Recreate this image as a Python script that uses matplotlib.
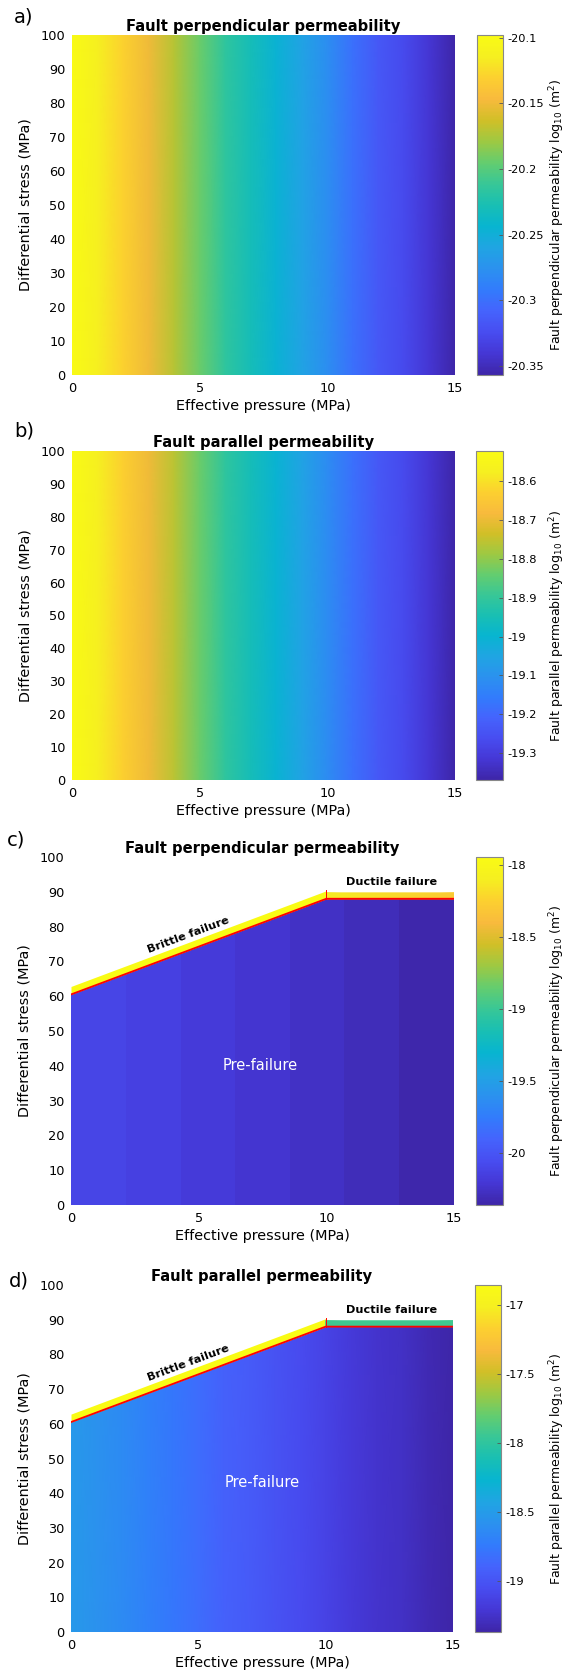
import numpy as np
import matplotlib
matplotlib.use("Agg")
import matplotlib.pyplot as plt
from matplotlib.colors import LinearSegmentedColormap, Normalize
from matplotlib.patches import Polygon

plt.rcParams['font.family'] = ['DejaVu Sans']
plt.rcParams['axes.unicode_minus'] = False

# parula-like colormap (MATLAB default)
parula = LinearSegmentedColormap.from_list("parula", [
    (0.2422, 0.1504, 0.6603), (0.2706, 0.2147, 0.8364), (0.2813, 0.3006, 0.9414),
    (0.2699, 0.3892, 0.9906), (0.1963, 0.4847, 0.9892), (0.1687, 0.5703, 0.9359),
    (0.1248, 0.6459, 0.8883), (0.0297, 0.7082, 0.8163), (0.0964, 0.7489, 0.7029),
    (0.2200, 0.7800, 0.5900), (0.3909, 0.8029, 0.4354), (0.6174, 0.7876, 0.2612),
    (0.8203, 0.7498, 0.1535), (0.9728, 0.7298, 0.2394), (0.9892, 0.8136, 0.1885),
    (0.9628, 0.9373, 0.1265), (0.9769, 0.9839, 0.0805)], N=256)

# ---- data ----
pressure = [0, 1, 2, 3, 4, 5, 6, 7, 8, 9, 10, 11, 12, 13, 14, 15]
stress_range = [0, 100]
perp_perm = [-20.098, -20.114, -20.130, -20.150, -20.171, -20.194, -20.216, -20.230,
             -20.246, -20.261, -20.279, -20.300, -20.316, -20.326, -20.341, -20.357]
par_perm = [-18.523, -18.574, -18.629, -18.692, -18.760, -18.836, -18.908, -18.954,
            -19.005, -19.056, -19.115, -19.183, -19.234, -19.267, -19.318, -19.369]

# failure envelope
brittle_p = [0, 10]
brittle_s = [60.5, 88]
ductile_p = [10, 15]
ductile_s = [88, 88]

# panel c: pre-failure banded columns
band_edges = [0, 2.14, 4.29, 6.43, 8.57, 10.71, 12.86, 15]
perp_band = [-20.105, -20.14, -20.18, -20.22, -20.255, -20.295, -20.34]
perp_brittle = -17.95
perp_ductile = [-18.12, -18.30]

# panel d
par_brittle = -16.86
par_ductile = [-17.93, -17.93]

clims = {"a": (-20.357, -20.098), "b": (-19.369, -18.523),
         "c": (-20.358, -17.945), "d": (-19.367, -16.858)}
cticks = {"a": [-20.35, -20.3, -20.25, -20.2, -20.15, -20.1],
          "b": [-19.3, -19.2, -19.1, -19.0, -18.9, -18.8, -18.7, -18.6],
          "c": [-20, -19.5, -19, -18.5, -18],
          "d": [-19, -18.5, -18, -17.5, -17]}
titles = {"a": "Fault perpendicular permeability", "b": "Fault parallel permeability",
          "c": "Fault perpendicular permeability", "d": "Fault parallel permeability"}
clabels = {"a": "Fault perpendicular permeability log$_{10}$ (m$^2$)",
           "b": "Fault parallel permeability log$_{10}$ (m$^2$)",
           "c": "Fault perpendicular permeability log$_{10}$ (m$^2$)",
           "d": "Fault parallel permeability log$_{10}$ (m$^2$)"}

W, H = 570, 1673
fig = plt.figure(figsize=(W / 100, H / 100), dpi=100)

# pixel boxes: left, right, top, bottom / colorbar left, right
boxes = {"a": (72, 455, 35, 375, 477, 503),
         "b": (72, 455, 451, 780, 476, 503),
         "c": (71, 454, 857, 1205, 476, 503),
         "d": (71, 453, 1285, 1632, 475, 501)}
panel_lab = {"a": (14, 17), "b": (14, 431), "c": (7, 840), "d": (9, 1281)}


def make_axes(k):
    l, r, t, b, cl, cr = boxes[k]
    ax = fig.add_axes([l / W, 1 - b / H, (r - l) / W, (b - t) / H])
    cax = fig.add_axes([cl / W, 1 - b / H, (cr - cl) / W, (b - t) / H])
    return ax, cax


def style_axes(ax, k):
    ax.set_xlim(0, 15)
    ax.set_ylim(0, 100)
    ax.set_xticks([0, 5, 10, 15])
    ax.set_yticks(range(0, 101, 10))
    ax.tick_params(length=0, labelsize=9.3)
    ax.tick_params(axis="x", pad=5)
    ax.tick_params(axis="y", pad=4.5)
    for s in ax.spines.values():
        s.set_visible(False)
    ax.set_xlabel("Effective pressure (MPa)", fontsize=10.4, labelpad=3)
    ax.set_ylabel("Differential stress (MPa)", fontsize=10.4, labelpad=6)
    ax.set_title(titles[k], fontsize=10.6, fontweight="bold", pad=3)
    px, py = panel_lab[k]
    fig.text(px / W, 1 - py / H, k + ")", fontsize=14, va="center", ha="left")


def style_cbar(m, cax, k):
    cb = fig.colorbar(m, cax=cax)
    cb.set_ticks(cticks[k])
    cb.set_ticklabels(["%g" % t for t in cticks[k]])
    cb.ax.tick_params(direction="in", length=3, labelsize=8.2, width=0.6, color="#555555")
    cb.outline.set_edgecolor("#888888")
    cb.outline.set_linewidth(0.8)
    t, b = boxes[k][2], boxes[k][3]
    fig.text(557 / W, 1 - ((t + b) / 2 + 10) / H, clabels[k], fontsize=9,
             rotation=90, ha="center", va="center")


# a) and b): smooth fields
for k, vals in (("a", perp_perm), ("b", par_perm)):
    ax, cax = make_axes(k)
    norm = Normalize(*clims[k])
    C = np.array([vals, vals])
    m = ax.pcolormesh(pressure, stress_range, C, cmap=parula, norm=norm, shading="gouraud")
    style_axes(ax, k)
    style_cbar(m, cax, k)

# c) and d): failure envelope panels
for k in ("c", "d"):
    ax, cax = make_axes(k)
    norm = Normalize(*clims[k])
    env = Polygon([(0, 0), (brittle_p[0], brittle_s[0]), (brittle_p[1], brittle_s[1]),
                   (ductile_p[1], ductile_s[1]), (15, 0)], closed=True,
                  facecolor="none", edgecolor="none", transform=ax.transData)
    ax.add_patch(env)
    if k == "c":
        C = np.array([perp_band])
        m = ax.pcolormesh(band_edges, stress_range, C, cmap=parula, norm=norm, shading="flat")
        brit, duct = perp_brittle, perp_ductile
    else:
        C = np.array([par_perm, par_perm])
        m = ax.pcolormesh(pressure, stress_range, C, cmap=parula, norm=norm, shading="gouraud")
        brit, duct = par_brittle, par_ductile
    m.set_clip_path(env)

    # failure strips
    ax.fill_between(brittle_p, brittle_s, [s + 2.3 for s in brittle_s],
                    color=parula(norm(brit)), lw=0)
    ax.pcolormesh(ductile_p, [ductile_s[0], ductile_s[0] + 1.7], np.array([duct, duct]),
                  cmap=parula, norm=norm, shading="gouraud")
    ax.plot(brittle_p + ductile_p[1:], brittle_s + ductile_s[1:], color="red", lw=1.3)
    ax.plot([10, 10], [88, 90.6], color="red", lw=0.7)

    rot = np.degrees(np.arctan2(brittle_s[1] - brittle_s[0], brittle_p[1] - brittle_p[0]))
    ax.text(4.6, 77.6, "Brittle failure", fontsize=8.1, fontweight="bold",
            rotation=rot, transform_rotates_text=True, rotation_mode="anchor",
            ha="center", va="center")
    ax.text(12.57, 92.7, "Ductile failure", fontsize=8.1, fontweight="bold", ha="center", va="center")
    ax.text(7.4 if k == "c" else 7.5, 40 if k == "c" else 43, "Pre-failure", fontsize=10.5,
            color="white", ha="center", va="center")
    style_axes(ax, k)
    style_cbar(m, cax, k)

fig.savefig("out.png", dpi=100)
